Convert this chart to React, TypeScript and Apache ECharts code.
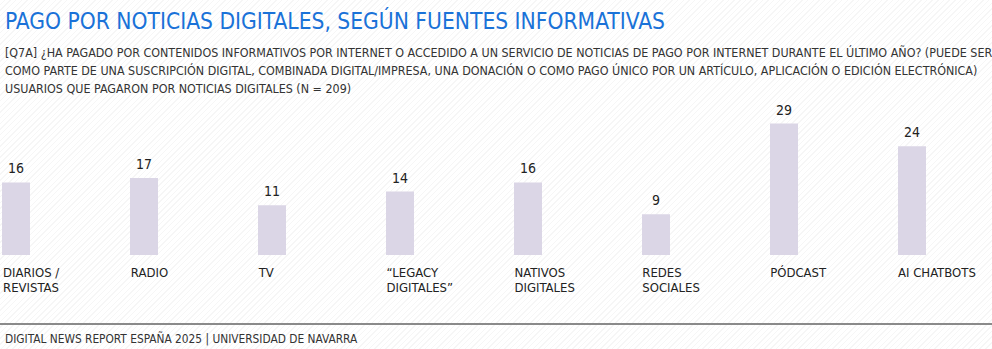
import React, { useEffect, useRef } from "react";
import * as echarts from "echarts";

const categories = [
  "DIARIOS /\nREVISTAS",
  "RADIO",
  "TV",
  "“LEGACY\nDIGITALES”",
  "NATIVOS\nDIGITALES",
  "REDES\nSOCIALES",
  "PÓDCAST",
  "AI CHATBOTS",
];
const values = [16, 17, 11, 14, 16, 9, 29, 24];

const titleText = "PAGO POR NOTICIAS DIGITALES, SEGÚN FUENTES INFORMATIVAS";
const subtitleLines = [
  "[Q7A] ¿HA PAGADO POR CONTENIDOS INFORMATIVOS POR INTERNET O ACCEDIDO A UN SERVICIO DE NOTICIAS DE PAGO POR INTERNET DURANTE EL ÚLTIMO AÑO? (PUEDE SER",
  "COMO PARTE DE UNA SUSCRIPCIÓN DIGITAL, COMBINADA DIGITAL/IMPRESA, UNA DONACIÓN O COMO PAGO ÚNICO POR UN ARTÍCULO, APLICACIÓN O EDICIÓN ELECTRÓNICA)",
  "USUARIOS QUE PAGARON POR NOTICIAS DIGITALES (N = 209)",
];
const footerText = "DIGITAL NEWS REPORT ESPAÑA 2025 | UNIVERSIDAD DE NAVARRA";

const FONT = "'Liberation Sans Narrow', 'DejaVu Sans Condensed', 'Noto Sans', sans-serif";

export default function App() {
  const ref = useRef<HTMLDivElement>(null);
  useEffect(() => {
    document.body.style.margin = "0";
    if (!ref.current) return;
    const chart = echarts.init(ref.current, null, { renderer: "svg" });
    chart.setOption({
      animation: false,
      backgroundColor: "transparent",
      textStyle: { fontFamily: FONT },
      title: [
        {
          text: titleText,
          left: 0,
          top: 4,
          textStyle: { color: "#1a72d8", fontSize: 22.6, fontWeight: "normal", fontFamily: FONT },
        },
        {
          text: subtitleLines.join("\n"),
          left: 0,
          top: 38,
          textStyle: { color: "#333333", fontSize: 12.4, fontWeight: "normal", lineHeight: 18, fontFamily: FONT },
        },
        {
          text: footerText,
          left: 0,
          top: 328,
          textStyle: { color: "#333333", fontSize: 11.8, fontWeight: "normal", fontFamily: FONT },
        },
      ],
      graphic: [
        {
          type: "line",
          shape: { x1: 0, y1: 324, x2: 992, y2: 324 },
          style: { stroke: "#8a8a8a", lineWidth: 2 },
        },
      ],
      grid: [
        { left: 16, width: 896, top: 119, height: 136 },
        { left: 2, width: 896, top: 119, height: 136 },
      ],
      xAxis: [
        {
          type: "category",
          gridIndex: 0,
          data: categories,
          boundaryGap: false,
          axisLine: { show: false },
          axisTick: { show: false },
          axisLabel: { show: false },
        },
        {
          type: "category",
          gridIndex: 1,
          data: categories,
          boundaryGap: false,
          axisLine: { show: false },
          axisTick: { show: false },
          axisLabel: {
            show: true,
            align: "left",
            margin: 10,
            interval: 0,
            color: "#222222",
            fontSize: 13,
            lineHeight: 15,
            fontFamily: FONT,
          },
        },
      ],
      yAxis: [
        { type: "value", gridIndex: 0, min: 0, max: 30, show: false, splitLine: { show: false } },
        { type: "value", gridIndex: 1, min: 0, max: 30, show: false, splitLine: { show: false } },
      ],
      series: [
        {
          type: "bar",
          xAxisIndex: 0,
          yAxisIndex: 0,
          data: values,
          barWidth: 28,
          itemStyle: { color: "#dbd6e6" },
          label: {
            show: true,
            position: "top",
            distance: 7,
            color: "#222222",
            fontSize: 14,
            fontFamily: FONT,
          },
        },
      ],
    });
    return () => chart.dispose();
  }, []);
  return (
    <div
      style={{
        width: 992,
        height: 349,
        background:
          "repeating-linear-gradient(135deg, #ffffff 0px, #ffffff 3px, #f6f6f6 3px, #f6f6f6 4px)",
      }}
    >
      <div ref={ref} style={{ width: 992, height: 349 }} />
    </div>
  );
}
